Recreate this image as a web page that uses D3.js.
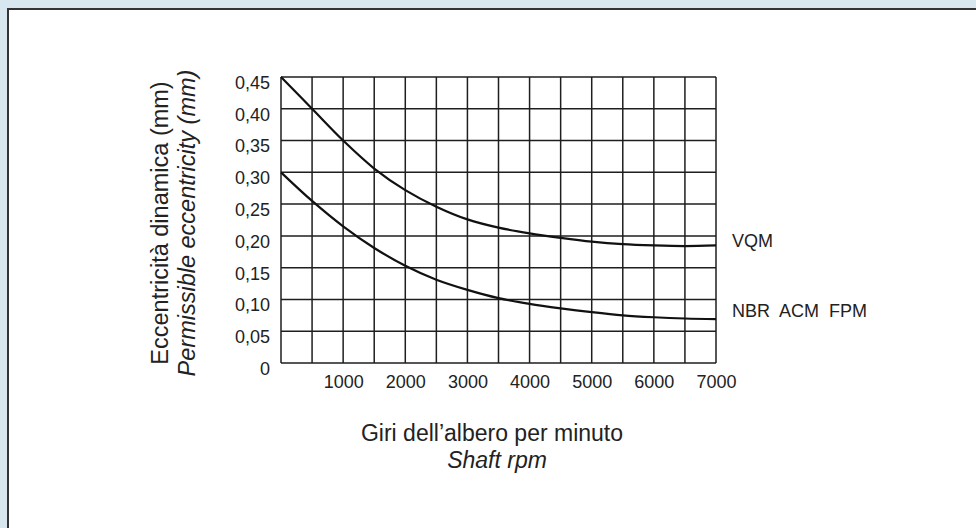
<!DOCTYPE html>
<html><head><meta charset="utf-8">
<script src="https://cdn.jsdelivr.net/npm/d3@7"></script>
<style>
html,body{margin:0;padding:0;background:#d7e6ef;}
svg{display:block;font-family:"Liberation Sans",Arial,Helvetica,sans-serif;}
</style></head>
<body>
<script>
const rpm = [0, 500, 1000, 1500, 2000, 2500, 3000, 3500, 4000, 4500, 5000, 5500, 6000, 6500, 7000];
const vqm = [0.45, 0.40, 0.35, 0.306, 0.272, 0.246, 0.226, 0.213, 0.204, 0.197, 0.191, 0.187, 0.185, 0.184, 0.185];
const nbr = [0.30, 0.255, 0.215, 0.181, 0.153, 0.131, 0.115, 0.102, 0.093, 0.086, 0.080, 0.075, 0.072, 0.070, 0.069];
const xTicks = [1000, 2000, 3000, 4000, 5000, 6000, 7000];
const yTicks = [0, 0.05, 0.10, 0.15, 0.20, 0.25, 0.30, 0.35, 0.40, 0.45];
const xGrid = d3.range(0, 7001, 500);
const seriesLabels = ["VQM", "NBR  ACM  FPM"];
const yTitle = ["Eccentricità dinamica (mm)", "Permissible eccentricity (mm)"];
const xTitle = ["Giri dell\u2019albero per minuto", "Shaft rpm"];

const W = 976, H = 528;
const svg = d3.select("body").append("svg").attr("width", W).attr("height", H);

// background & panel
svg.append("rect").attr("width", W).attr("height", H).attr("fill", "#d7e6ef");
svg.append("rect").attr("x", 8).attr("y", 9).attr("width", W).attr("height", H).attr("fill", "#fff");
svg.append("path").attr("d", `M8,${H} L8,9 L${W},9`).attr("fill", "none").attr("stroke", "#333").attr("stroke-width", 2);

const x = d3.scaleLinear().domain([0, 7000]).range([281, 716]);
const y = d3.scaleLinear().domain([0, 0.45]).range([363, 77]);
const ink = "#1e1e1e";

// grid
const g = svg.append("g");
g.selectAll("line.v").data(xGrid).join("line")
  .attr("x1", d => x(d)).attr("x2", d => x(d)).attr("y1", y(0)).attr("y2", y(0.45))
  .attr("stroke", ink).attr("stroke-width", 1.5);
g.selectAll("line.h").data(yTicks).join("line")
  .attr("y1", d => y(d)).attr("y2", d => y(d)).attr("x1", x(0)).attr("x2", x(7000))
  .attr("stroke", ink).attr("stroke-width", 1.5);

// axes labels via d3 axes
const fmt = d => d === 0 ? "0" : d3.format(".2f")(d).replace(".", ",");
const yAxis = svg.append("g").attr("transform", `translate(${x(0)},0)`)
  .call(d3.axisLeft(y).tickValues(yTicks).tickFormat(fmt).tickSize(0).tickPadding(11));
yAxis.attr("font-size", null).attr("font-family", null);
yAxis.select(".domain").remove();
yAxis.selectAll("text").attr("font-size", 18).attr("fill", "#222").attr("dy", "0.63em");

const xAxis = svg.append("g").attr("transform", `translate(0,${y(0)})`)
  .call(d3.axisBottom(x).tickValues(xTicks).tickFormat(d => String(d)).tickSize(0).tickPadding(12));
xAxis.attr("font-size", null).attr("font-family", null);
xAxis.select(".domain").remove();
xAxis.selectAll("text").attr("font-size", 18).attr("fill", "#222");

// curves
const line = d3.line().x((d, i) => x(rpm[i])).y(d => y(d)).curve(d3.curveCatmullRom);
[vqm, nbr].forEach(s => {
  svg.append("path").attr("d", line(s)).attr("fill", "none").attr("stroke", "#111").attr("stroke-width", 2.2);
});

// series labels
svg.selectAll("text.sl").data(seriesLabels).join("text")
  .attr("x", 732).attr("y", (d, i) => [247, 317][i])
  .attr("font-size", 18).attr("fill", "#222").style("white-space", "pre")
  .text(d => d);

// y title
const yt = svg.append("g").attr("transform", "translate(168,223) rotate(-90)");
yt.append("text").attr("text-anchor", "middle").attr("font-size", 23.5).attr("fill", "#222").text(yTitle[0]);
yt.append("text").attr("text-anchor", "middle").attr("y", 27).attr("font-size", 23.5).attr("font-style", "italic").attr("fill", "#222").text(yTitle[1]);

// x title
svg.append("text").attr("x", 492).attr("y", 441).attr("text-anchor", "middle").attr("font-size", 23).attr("fill", "#222").text(xTitle[0]);
svg.append("text").attr("x", 497).attr("y", 468).attr("text-anchor", "middle").attr("font-size", 23).attr("font-style", "italic").attr("fill", "#222").text(xTitle[1]);
</script>
</body></html>
